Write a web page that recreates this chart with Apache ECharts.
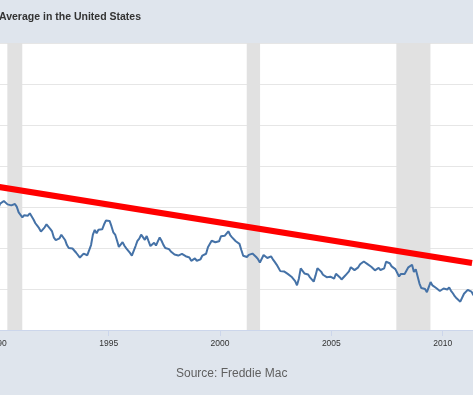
<!DOCTYPE html>
<html>
<head>
<meta charset="utf-8">
<script src="https://cdn.jsdelivr.net/npm/echarts@6/dist/echarts.min.js"></script>
<style>html,body{margin:0;padding:0;background:#dfe5ed;}#c{width:473px;height:395px;}</style>
</head>
<body>
<div id="c"></div>
<script>
// Monthly 30-year fixed mortgage rate (%), starting Jan 1989
const startYear = 1989;
const rates = [
 10.73,10.65,11.03,11.05,10.77,10.20,9.88,9.99,10.13,9.95,9.77,9.74,
 9.90,10.20,10.27,10.37,10.48,10.16,10.04,10.10,10.18,10.18,10.01,9.67,
 9.64,9.37,9.50,9.49,9.47,9.62,9.58,9.24,9.01,8.86,8.71,8.50,
 8.43,8.76,8.94,8.85,8.67,8.51,8.13,7.98,7.92,8.09,8.31,8.22,
 7.99,7.68,7.50,7.47,7.47,7.42,7.21,7.11,6.92,6.83,7.16,7.17,
 7.06,7.15,7.68,8.32,8.60,8.40,8.61,8.51,8.64,8.93,9.17,9.20,
 9.15,8.83,8.46,8.32,7.96,7.57,7.61,7.86,7.64,7.48,7.38,7.20,
 7.03,7.08,7.62,7.93,8.07,8.32,8.25,8.00,8.23,7.92,7.62,7.60,
 7.82,7.65,7.90,8.14,7.94,7.69,7.50,7.48,7.43,7.29,7.21,7.10,
 6.99,7.04,7.13,7.14,7.14,7.00,6.95,6.92,6.72,6.71,6.87,6.72,
 6.79,6.81,7.04,6.92,7.15,7.55,7.63,7.94,7.82,7.85,7.74,7.91,
 8.21,8.33,8.24,8.15,8.52,8.29,8.15,8.03,7.91,7.80,7.75,7.38,
 7.03,7.05,6.95,7.08,7.15,7.16,7.13,6.95,6.82,6.62,6.66,7.07,
 7.00,6.89,7.01,6.99,6.81,6.65,6.49,6.29,6.09,6.11,6.07,6.05,
 5.92,5.84,5.75,5.81,5.48,5.23,5.63,6.26,6.15,5.95,5.93,5.88,
 5.71,5.64,5.45,5.83,6.27,6.29,6.06,5.87,5.75,5.72,5.73,5.75,
 5.71,5.63,5.93,5.86,5.72,5.58,5.70,5.82,5.77,6.07,6.33,6.27,
 6.15,6.25,6.32,6.51,6.60,6.68,6.76,6.52,6.40,6.36,6.24,6.14,
 6.22,6.29,6.16,6.18,6.26,6.66,6.70,6.57,6.38,6.38,6.21,6.10,
 5.76,5.92,5.97,5.92,6.04,6.32,6.43,6.48,6.04,6.20,6.09,5.33,
 5.06,5.13,5.00,4.81,4.86,5.42,5.22,5.19,5.06,4.95,4.88,4.93,
 5.03,4.99,4.97,5.10,4.89,4.74,4.56,4.43,4.35,4.23,4.30,4.71,
 4.76,4.95,4.84,4.84,4.64,4.51
];
// Recession periods (start, end) in fractional years
const recessionStart = [1990.45, 2001.2, 2007.92];
const recessionEnd   = [1991.12, 2001.8, 2009.45];
// Red trend line endpoints
const trendYears  = [1990.08, 2011.32];
const trendValues = [11.22, 6.59];
const titleText = "Average in the United States";
const sourceText = "Source: Freddie Mac";

const lineData = rates.map((v, i) => [startYear + (i + 0.5) / 12, v]);
const trendData = trendYears.map((y, i) => [y, trendValues[i]]);
const bands = recessionStart.map((s, i) => [{ xAxis: s }, { xAxis: recessionEnd[i] }]);

const chart = echarts.init(document.getElementById('c'), null, { renderer: 'canvas' });
chart.setOption({
  backgroundColor: '#dfe5ed',
  animation: false,
  title: [
    { text: titleText, left: -6, top: 7,
      textStyle: { fontSize: 10.5, fontWeight: 'bold', color: '#333', fontFamily: 'Liberation Sans, Arial, sans-serif' } },
    { text: sourceText, left: 171, top: 363,
      textStyle: { fontSize: 12, fontWeight: 'normal', color: '#606060', fontFamily: 'Liberation Sans, Arial, sans-serif' } }
  ],
  grid: { left: -114, right: -81, top: 43, bottom: 65, show: true, backgroundColor: '#ffffff', borderWidth: 0,
          containLabel: false, outerBoundsMode: 'none' },
  xAxis: {
    type: 'value', min: 1985, max: 2015, interval: 5,
    axisLine: { show: true, lineStyle: { color: '#ccd6eb', width: 1 } },
    axisTick: { show: true, length: 6, lineStyle: { color: '#ccd6eb' } },
    axisLabel: { color: '#333', fontSize: 8.5, margin: 9, fontFamily: 'Liberation Sans, Arial, sans-serif',
      formatter: v => String(v) },
    splitLine: { show: false }
  },
  yAxis: {
    type: 'value', min: 2.5, max: 20, interval: 2.5,
    axisLabel: { show: false }, axisLine: { show: false }, axisTick: { show: false },
    splitLine: { show: true, lineStyle: { color: '#e6e6e6', width: 1 } }
  },
  series: [
    {
      type: 'line', data: lineData, showSymbol: false, smooth: false,
      lineStyle: { color: '#4572a7', width: 2 },
      markArea: { silent: true, itemStyle: { color: '#e1e1e1' }, data: bands },
      z: 2
    },
    {
      type: 'line', data: trendData, showSymbol: false,
      lineStyle: { color: '#ff0000', width: 6 }, z: 3
    }
  ]
});
</script>
</body>
</html>
